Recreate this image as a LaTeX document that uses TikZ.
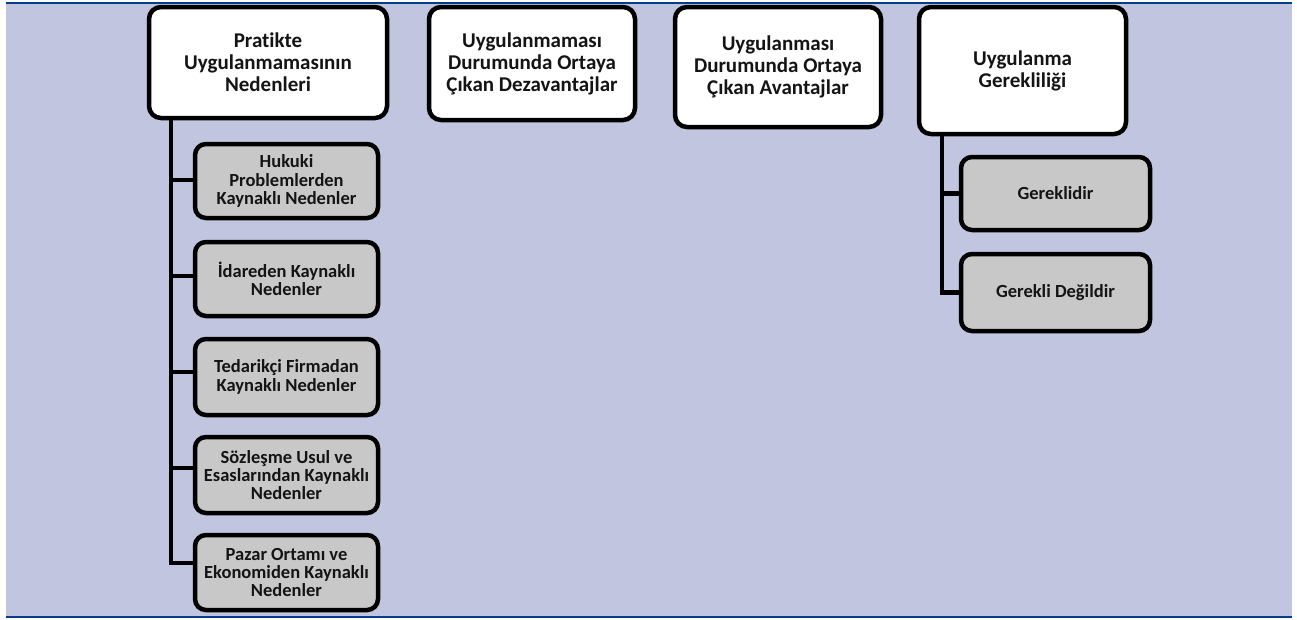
\documentclass[tikz,border=0pt]{standalone}
\usepackage{fontspec}
\setmainfont[Ligatures=NoCommon]{Carlito}
\definecolor{bgcol}{RGB}{193,197,224}
\definecolor{bluecol}{RGB}{8,60,135}
\definecolor{graycol}{RGB}{200,200,200}
\definecolor{txtcol}{RGB}{20,20,20}
\tikzset{
  mainbox/.style={draw=black, line width=4.5pt, fill=white, rounded corners=12pt,
    align=center, inner sep=0pt, text=txtcol, font=\bfseries\fontsize{21}{22}\selectfont},
  subbox/.style={draw=black, line width=4.5pt, fill=graycol, rounded corners=11pt,
    align=center, inner sep=0pt, text=txtcol, font=\bfseries\fontsize{18.5}{18.3}\selectfont},
  conn/.style={draw=black, line width=4.5pt},
  rule/.style={draw=bluecol, line width=2.8pt}
}
\begin{document}
\begin{tikzpicture}[x=1pt,y=-1pt]
\useasboundingbox (0,0) rectangle (1297,619);
\fill[white] (0,0) rectangle (1297,619);
\fill[bgcol] (6,3) rectangle (1292,617);
\draw[rule] (6,3) -- (1292,3);
\draw[rule] (6,617) -- (1292,617);

% main boxes
\node[mainbox, minimum width=238pt, minimum height=111pt] (b1) at (268,62.5)
  {Pratikte\\Uygulanmamasının\\Nedenleri};
\node[mainbox, minimum width=206pt, minimum height=113pt] (b2) at (532,63.5)
  {Uygulanmaması\\Durumunda Ortaya\\Çıkan Dezavantajlar};
\node[mainbox, minimum width=206pt, minimum height=120pt] (b3) at (778,67)
  {Uygulanması\\Durumunda Ortaya\\Çıkan Avantajlar};
\node[mainbox, minimum width=207pt, minimum height=127pt] (b4) at (1022.5,70.5)
  {Uygulanma\\Gerekliliği};

% column 1 children
\node[subbox, minimum width=183pt, minimum height=74pt] (c1) at (286.5,181)
  {Hukuki\\Problemlerden\\Kaynaklı Nedenler};
\node[subbox, minimum width=183pt, minimum height=74pt] (c2) at (286.5,279)
  {İdareden Kaynaklı\\Nedenler};
\node[subbox, minimum width=183pt, minimum height=76pt] (c3) at (286.5,377)
  {Tedarikçi Firmadan\\Kaynaklı Nedenler};
\node[subbox, minimum width=183pt, minimum height=76pt] (c4) at (286.5,475)
  {Sözleşme Usul ve\\Esaslarından Kaynaklı\\Nedenler};
\node[subbox, minimum width=183pt, minimum height=75pt] (c5) at (286.5,572.5)
  {Pazar Ortamı ve\\Ekonomiden Kaynaklı\\Nedenler};

% column 4 children
\node[subbox, minimum width=189pt, minimum height=73pt] (d1) at (1055.5,193.5)
  {Gereklidir};
\node[subbox, minimum width=189pt, minimum height=77pt] (d2) at (1055.5,292.5)
  {Gerekli Değildir};

% connector end points on the child boxes
\coordinate (k1) at ([yshift=1pt]c1.west);
\coordinate (k2) at ([yshift=3pt]c2.west);
\coordinate (k3) at ([yshift=5pt]c3.west);
\coordinate (k4) at ([yshift=7pt]c4.west);
\coordinate (k5) at ([yshift=9.5pt]c5.west);

% connectors column 1
\coordinate (s1) at (171,0);
\draw[conn] (b1.south -| s1) |- (k5);
\draw[conn] (k1 -| s1) -- (k1);
\draw[conn] (k2 -| s1) -- (k2);
\draw[conn] (k3 -| s1) -- (k3);
\draw[conn] (k4 -| s1) -- (k4);

% connectors column 4
\coordinate (s4) at (942,0);
\draw[conn] (b4.south -| s4) |- (d2.west);
\draw[conn] (d1.west -| s4) -- (d1.west);
\end{tikzpicture}
\end{document}
